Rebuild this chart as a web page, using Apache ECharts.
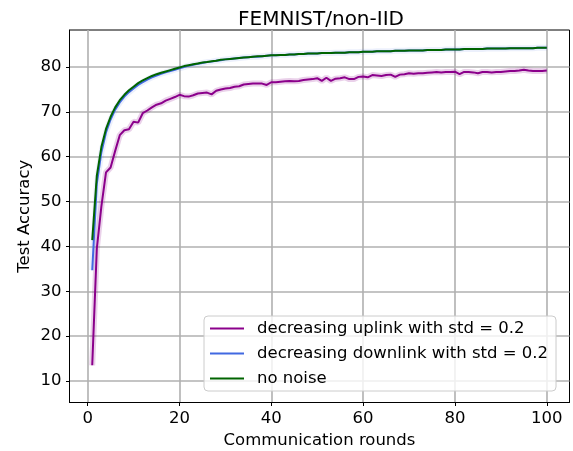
<!DOCTYPE html>
<html>
<head>
    <meta charset="utf-8">
    <title>FEMNIST/non-IID</title>
    <script src="https://cdn.jsdelivr.net/npm/echarts@6/dist/echarts.min.js"></script>
    <style>
        body, html { margin: 0; padding: 0; background: #fff; }
        #main { width: 573px; height: 451px; }
    </style>
</head>
<body>
    <div id="main"></div>
    <script>
        // communication rounds 1..100
        const rounds = [];
        for (let r = 1; r <= 100; r++) rounds.push(r);

        const uplink = [
            13.5, 39.5, 49.0, 56.5, 57.6, 61.3, 64.8, 65.9, 66.1, 67.8,
            67.6, 69.7, 70.3, 71.0, 71.6, 71.9, 72.5, 72.9, 73.3, 73.8,
            73.5, 73.4, 73.7, 74.1, 74.2, 74.3, 73.9, 74.7, 75.0, 75.2,
            75.3, 75.6, 75.7, 76.1, 76.2, 76.3, 76.3, 76.3, 76.0, 76.6,
            76.6, 76.7, 76.8, 76.9, 76.8, 76.9, 77.1, 77.2, 77.3, 77.5,
            76.9, 77.6, 76.9, 77.4, 77.5, 77.7, 77.3, 77.3, 77.8, 77.9,
            77.7, 78.2, 78.1, 78.0, 78.2, 78.3, 77.8, 78.3, 78.4, 78.6,
            78.5, 78.6, 78.6, 78.7, 78.8, 78.9, 78.8, 78.9, 78.9, 78.95,
            78.4, 78.9, 78.9, 78.8, 78.6, 78.9, 78.9, 78.8, 78.9, 78.9,
            79.0, 79.1, 79.1, 79.2, 79.4, 79.2, 79.1, 79.1, 79.1, 79.2
        ];
        const downlink = [
            34.7, 54.0, 61.0, 65.4, 68.3, 70.5, 72.1, 73.4, 74.4, 75.2,
            76.0, 76.6, 77.2, 77.7, 78.1, 78.5, 78.8, 79.1, 79.4, 79.7,
            80.0, 80.3, 80.5, 80.7, 80.9, 81.1, 81.2, 81.4, 81.5, 81.7,
            81.8, 81.9, 82.0, 82.1, 82.2, 82.3, 82.3, 82.4, 82.5, 82.6,
            82.6, 82.7, 82.7, 82.8, 82.8, 82.9, 82.9, 83.0, 83.0, 83.0,
            83.1, 83.1, 83.1, 83.2, 83.2, 83.2, 83.3, 83.3, 83.3, 83.4,
            83.4, 83.4, 83.5, 83.5, 83.5, 83.5, 83.6, 83.6, 83.6, 83.7,
            83.7, 83.7, 83.7, 83.8, 83.8, 83.8, 83.8, 83.9, 83.9, 83.9,
            83.9, 84.0, 84.0, 84.0, 84.0, 84.0, 84.1, 84.1, 84.1, 84.1,
            84.1, 84.2, 84.2, 84.2, 84.2, 84.2, 84.2, 84.3, 84.3, 84.3
        ];
        const noNoise = [
            41.4, 55.8, 62.2, 66.2, 68.9, 71.0, 72.6, 73.8, 74.8, 75.6,
            76.4, 77.0, 77.5, 78.0, 78.4, 78.7, 79.0, 79.3, 79.6, 79.9,
            80.2, 80.4, 80.6, 80.8, 81.0, 81.1, 81.3, 81.4, 81.6, 81.7,
            81.8, 81.9, 82.0, 82.1, 82.2, 82.3, 82.4, 82.4, 82.5, 82.6,
            82.6, 82.7, 82.7, 82.8, 82.8, 82.9, 82.9, 83.0, 83.0, 83.0,
            83.1, 83.1, 83.1, 83.2, 83.2, 83.2, 83.3, 83.3, 83.3, 83.4,
            83.4, 83.4, 83.5, 83.5, 83.5, 83.5, 83.6, 83.6, 83.6, 83.7,
            83.7, 83.7, 83.7, 83.8, 83.8, 83.8, 83.8, 83.9, 83.9, 83.9,
            83.9, 84.0, 84.0, 84.0, 84.0, 84.0, 84.1, 84.1, 84.1, 84.1,
            84.1, 84.2, 84.2, 84.2, 84.2, 84.2, 84.2, 84.3, 84.3, 84.3
        ];

        const xTicks = [0, 20, 40, 60, 80, 100];
        const yTicks = [10, 20, 30, 40, 50, 60, 70, 80];

        const names = [
            'decreasing uplink with std = 0.2',
            'decreasing downlink with std = 0.2',
            'no noise'
        ];
        const colors = ['#8b008b', '#4169e1', '#006400'];

        const font = 'DejaVu Sans';
        const pair = arr => rounds.map((r, i) => [r, arr[i]]);

        var myChart = echarts.init(document.getElementById('main'));

        const mainLine = (name, data, color) => ({
            name: name,
            type: 'line',
            data: pair(data),
            symbol: 'none',
            lineStyle: { color: color, width: 2 },
            itemStyle: { color: color },
            z: 3
        });
        // faint wide copy stands in for the shaded spread around each curve
        const shade = (data, color, op) => ({
            name: '_shade',
            type: 'line',
            data: pair(data),
            symbol: 'none',
            silent: true,
            lineStyle: { color: color, width: 6, opacity: op },
            z: 2
        });

        const option = {
            backgroundColor: '#fff',
            animation: false,
            title: {
                text: 'FEMNIST/non-IID',
                left: 316,
                textAlign: 'center',
                top: 5,
                textStyle: { fontFamily: font, fontSize: 20, fontWeight: 'normal', color: '#000' }
            },
            grid: {
                left: 69.5, right: 3.5, top: 30, bottom: 48.5,
                outerBoundsMode: 'none',
                containLabel: false,
                show: true, borderColor: '#000', borderWidth: 1, backgroundColor: 'transparent'
            },
            legend: {
                data: names,
                orient: 'vertical',
                left: 204,
                top: 316,
                icon: 'rect',
                itemWidth: 34,
                itemHeight: 2.2,
                itemGap: 8,
                padding: [4, 8, 4, 6],
                backgroundColor: 'rgba(255,255,255,0.8)',
                borderColor: '#cccccc',
                borderWidth: 1,
                borderRadius: 4,
                textStyle: { fontFamily: font, fontSize: 16.5, color: '#000', padding: [0, 0, 0, 8], lineHeight: 17 }
            },
            xAxis: {
                type: 'value',
                min: -3.95,
                max: 104.95,
                name: 'Communication rounds',
                nameLocation: 'middle',
                nameGap: 30,
                nameTextStyle: { fontFamily: font, fontSize: 16.5, color: '#000' },
                axisLine: { show: true, onZero: false, lineStyle: { color: '#000', width: 1 } },
                axisTick: { show: true, customValues: xTicks, length: 3.5, lineStyle: { color: '#000' } },
                axisLabel: { customValues: xTicks, margin: 8, fontFamily: font, fontSize: 16.5, color: '#000' },
                splitLine: { show: true, lineStyle: { color: '#b0b0b0', width: 1.6 } }
            },
            yAxis: {
                type: 'value',
                min: 5.2,
                max: 88.25,
                name: 'Test Accuracy',
                nameLocation: 'middle',
                nameGap: 36,
                nameMoveOverlap: false,
                nameTextStyle: { fontFamily: font, fontSize: 16.5, color: '#000' },
                axisLine: { show: true, onZero: false, lineStyle: { color: '#000', width: 1 } },
                axisTick: { show: true, customValues: yTicks, length: 3.5, lineStyle: { color: '#000' } },
                axisLabel: { customValues: yTicks, margin: 8, fontFamily: font, fontSize: 16.5, color: '#000' },
                splitLine: { show: true, lineStyle: { color: '#b0b0b0', width: 1.6 } }
            },
            series: [
                shade(uplink, colors[0], 0.18),
                shade(downlink, colors[1], 0.1),
                mainLine(names[0], uplink, colors[0]),
                mainLine(names[1], downlink, colors[1]),
                mainLine(names[2], noNoise, colors[2])
            ]
        };

        myChart.setOption(option);
    </script>
</body>
</html>
